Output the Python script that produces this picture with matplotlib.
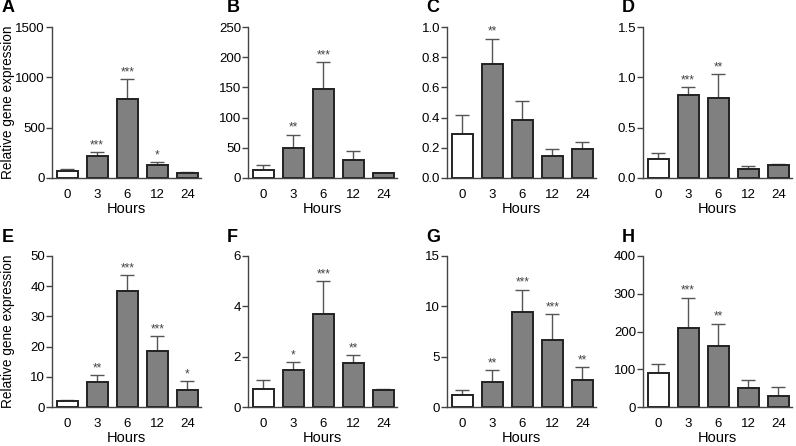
import matplotlib
matplotlib.use("Agg")
from matplotlib import pyplot as plt
import numpy as np

plt.rcParams["font.family"] = ["Liberation Sans", "DejaVu Sans"]

hours = ["0", "3", "6", "12", "24"]
panels = ["A", "B", "C", "D", "E", "F", "G", "H"]

# mean values and upper error (mean + SEM) per panel
means_A = [66, 221, 782, 125, 53]
tops_A = [90, 254, 983, 158, 59]
means_B = [13, 50, 148, 30, 7.7]
tops_B = [21, 72, 192, 44, 8.3]
means_C = [0.293, 0.755, 0.385, 0.145, 0.194]
tops_C = [0.42, 0.923, 0.507, 0.19, 0.236]
means_D = [0.186, 0.82, 0.797, 0.086, 0.126]
tops_D = [0.25, 0.907, 1.03, 0.12, 0.143]
means_E = [1.9, 8.2, 38.4, 18.4, 5.7]
tops_E = [2.4, 10.5, 43.8, 23.6, 8.7]
means_F = [0.72, 1.46, 3.68, 1.75, 0.68]
tops_F = [1.07, 1.77, 5.02, 2.08, 0.72]
means_G = [1.16, 2.48, 9.4, 6.66, 2.65]
tops_G = [1.66, 3.68, 11.66, 9.27, 3.94]
means_H = [91, 208, 162, 51, 29]
tops_H = [114, 290, 221, 72, 54]

stars_A = ["", "***", "***", "*", ""]
stars_B = ["", "**", "***", "", ""]
stars_C = ["", "**", "", "", ""]
stars_D = ["", "***", "**", "", ""]
stars_E = ["", "**", "***", "***", "*"]
stars_F = ["", "*", "***", "**", ""]
stars_G = ["", "**", "***", "***", "**"]
stars_H = ["", "***", "**", "", ""]

yticks_A = [0, 500, 1000, 1500]
yticks_B = [0, 50, 100, 150, 200, 250]
yticks_C = [0.0, 0.2, 0.4, 0.6, 0.8, 1.0]
yticks_D = [0.0, 0.5, 1.0, 1.5]
yticks_E = [0, 10, 20, 30, 40, 50]
yticks_F = [0, 2, 4, 6]
yticks_G = [0, 5, 10, 15]
yticks_H = [0, 100, 200, 300, 400]

data = {
    "A": (means_A, tops_A, stars_A, yticks_A, "{:g}"),
    "B": (means_B, tops_B, stars_B, yticks_B, "{:g}"),
    "C": (means_C, tops_C, stars_C, yticks_C, "{:.1f}"),
    "D": (means_D, tops_D, stars_D, yticks_D, "{:.1f}"),
    "E": (means_E, tops_E, stars_E, yticks_E, "{:g}"),
    "F": (means_F, tops_F, stars_F, yticks_F, "{:g}"),
    "G": (means_G, tops_G, stars_G, yticks_G, "{:g}"),
    "H": (means_H, tops_H, stars_H, yticks_H, "{:g}"),
}

W, H = 796, 446
fig = plt.figure(figsize=(W / 100, H / 100), dpi=100)

lefts = [52, 248, 447, 643]
letter_x = [2, 227, 426, 622]
row_top = [27, 256]
ax_h = 151
ax_w = 149

spine_col = "#444444"
bar_col = "#808080"

for i, name in enumerate(panels):
    row, col = divmod(i, 4)
    x0 = lefts[col]
    y0 = H - row_top[row] - ax_h
    ax = fig.add_axes([x0 / W, y0 / H, ax_w / W, ax_h / H])
    means, tops, stars, yt, fmt = data[name]
    x = np.arange(len(hours))
    colors = ["white"] + [bar_col] * (len(hours) - 1)
    err = np.array(tops) - np.array(means)
    ax.bar(x, means, width=0.7, color=colors, edgecolor="#222222",
           linewidth=1.4, zorder=2)
    ax.errorbar(x, means, yerr=[np.zeros_like(err), err], fmt="none",
                ecolor="#555555", elinewidth=1, capsize=4.8, capthick=1,
                zorder=1)
    for xi, t, s in zip(x, tops, stars):
        if s:
            ax.annotate(s, (xi, t), xytext=(0, 0.5), textcoords="offset points",
                        ha="center", va="bottom", fontsize=8.5,
                        color="#444444")
    ax.set_xlim(-0.5, 4.45)
    ax.set_ylim(yt[0], yt[-1])
    ax.set_yticks(yt)
    ax.set_yticklabels([fmt.format(v) for v in yt])
    ax.set_xticks(x)
    ax.set_xticklabels(hours)
    ax.spines["top"].set_visible(False)
    ax.spines["right"].set_visible(False)
    for sp in ("left", "bottom"):
        ax.spines[sp].set_color(spine_col)
        ax.spines[sp].set_linewidth(1)
    ax.tick_params(axis="y", length=4, width=1, color=spine_col,
                   labelsize=9.5, pad=1)
    ax.tick_params(axis="x", length=0, labelsize=9.5, pad=8)
    ax.set_xlabel("Hours", fontsize=10.5, labelpad=0.5)
    if col == 0:
        ax.set_ylabel("Relative gene expression", fontsize=9.8)
        ax.yaxis.set_label_coords(-0.25, 0.5)
    fig.text(letter_x[col] / W, 1 - (row_top[row] - 19) / H, name,
             fontsize=13, fontweight="bold", ha="left", va="center")

fig.savefig("out.png", dpi=100)
